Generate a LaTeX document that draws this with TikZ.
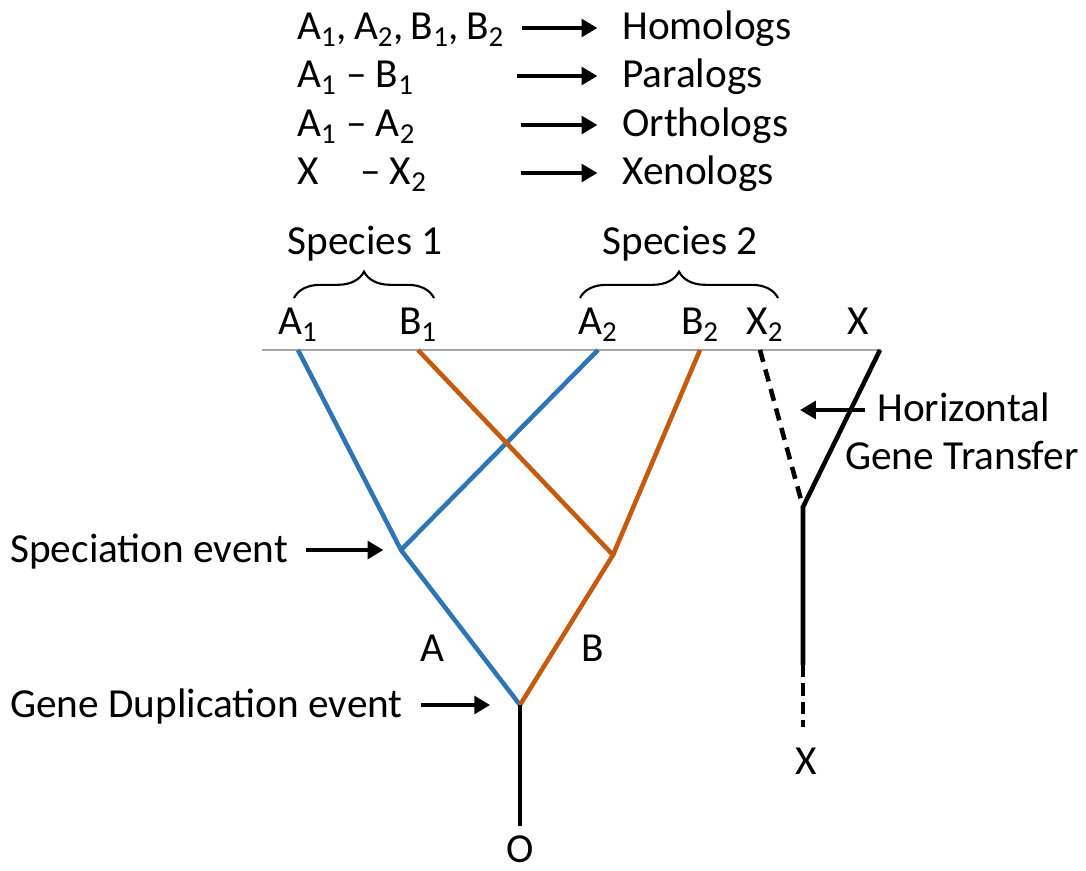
\documentclass[tikz,border=0pt]{standalone}
\usepackage{fontspec}
\setmainfont{Carlito}
\usetikzlibrary{arrows.meta,decorations.pathreplacing}

\definecolor{geneA}{RGB}{46,117,182}
\definecolor{geneB}{RGB}{197,90,17}

\begin{document}
\begin{tikzpicture}[x=0.02cm, y=-0.02cm, font=\fontsize{23.5}{28}\selectfont,
  branch/.style={line width=2.6pt},
  pointer/.style={line width=2.6pt, -{Triangle[length=9pt,width=10pt]}},
  lbl/.style={inner sep=0pt},
  grouping/.style={line width=1.2pt, decorate, decoration={brace, amplitude=15pt}}]
  \useasboundingbox (0,0) rectangle (1086,871);

  % Legend
  \foreach \i/\lft/\rgt/\ya/\xa in {%
      1/{\spaceskip=4pt A\textsubscript{1}, A\textsubscript{2}, B\textsubscript{1}, B\textsubscript{2}}/Homologs/28/522,
      2/{A\textsubscript{1} -- B\textsubscript{1}}/Paralogs/76/517,
      3/{A\textsubscript{1} -- A\textsubscript{2}}/Orthologs/125/521,
      4/{X\quad-- X\textsubscript{2}}/Xenologs/173/521} {
    \node[lbl, anchor=base west] (left\i) at (297,\ya+12) {\lft};
    \node[lbl, anchor=base west] (right\i) at (622,\ya+12) {\rgt};
    \coordinate (tail\i) at (\xa,\ya);
    \draw[pointer, shorten >=14pt] (tail\i) -- (tail\i -| right\i.west);
  }

  % Present-day genes
  \coordinate (baseL) at (262,350);
  \coordinate (baseR) at (881,350);
  \draw[gray!70, line width=0.6pt] (baseL) -- (baseR);
  \foreach \g/\txt/\x in {a1/A\textsubscript{1}/298, b1/B\textsubscript{1}/418,
      a2/A\textsubscript{2}/598, b2/B\textsubscript{2}/700,
      x2/X\textsubscript{2}/760, xx/X/880} {
    \coordinate (\g) at (\x,350);
  }
  \foreach \g/\txt/\x in {a1/A\textsubscript{1}/298, b1/B\textsubscript{1}/418,
      a2/A\textsubscript{2}/598, b2/B\textsubscript{2}/700,
      x2/X\textsubscript{2}/765, xx/X/858} {
    \node[lbl, anchor=base] (lab-\g) at (\x,335) {\txt};
  }

  % Species braces
  \draw[grouping] (294,298) -- (434,298);
  \node[lbl, anchor=base] (sp1) at (365,255) {Species 1};
  \draw[grouping] (580,298) -- (778,298);
  \node[lbl, anchor=base] (sp2) at (680,255) {Species 2};

  % Tree vertices
  \coordinate (spA) at (401,550);
  \coordinate (spB) at (613,555);
  \coordinate (dup) at (520,705);
  \coordinate (root) at (520,826);
  \coordinate (hgt) at (803,507);
  \coordinate (xmid) at (803,665);
  \coordinate (xend) at (803,727);

  % Gene A lineage
  \draw[branch, geneA] (a1) -- (spA) -- (dup);
  \draw[branch, geneA] (a2) -- (spA);
  % Gene B lineage
  \draw[branch, geneB] (b1) -- (spB) -- (dup);
  \draw[branch, geneB] (b2) -- (spB);
  % Ancestral gene
  \draw[branch] (dup) -- (root);
  \node[lbl, anchor=base] (orig) at (520,862) {O};

  % Gene X lineage
  \draw[branch] (xx) -- (hgt) -- (xmid);
  \draw[branch, dash pattern=on 7pt off 4.5pt] (x2) -- (hgt);
  \draw[branch, dash pattern=on 7pt off 3.5pt] (xmid) -- (xend);
  \node[lbl, anchor=base] (xlab) at (806,774) {X};

  % Branch labels
  \node[lbl] (labA) at (432,648) {A};
  \node[lbl] (labB) at (593,648) {B};

  % Events
  \node[lbl, anchor=base west] (spec) at (10,562) {Speciation event};
  \draw[pointer, shorten <=10pt, shorten >=10pt] (spec.east |- spA) -- (spA);
  \node[lbl, anchor=base west] (dupl) at (10,717) {Gene Duplication event};
  \draw[pointer, shorten <=10pt, shorten >=17pt] (dupl.east |- dup) -- (dup);

  % Horizontal gene transfer
  \node[lbl, anchor=base west] (horiz) at (877,422) {Horizontal};
  \node[lbl, anchor=base west] (gtrans) at (845,470) {Gene Transfer};
  \coordinate (hgtin) at (800,410);
  \draw[pointer, shorten <=7pt] (horiz.west |- hgtin) -- (hgtin);
\end{tikzpicture}
\end{document}
